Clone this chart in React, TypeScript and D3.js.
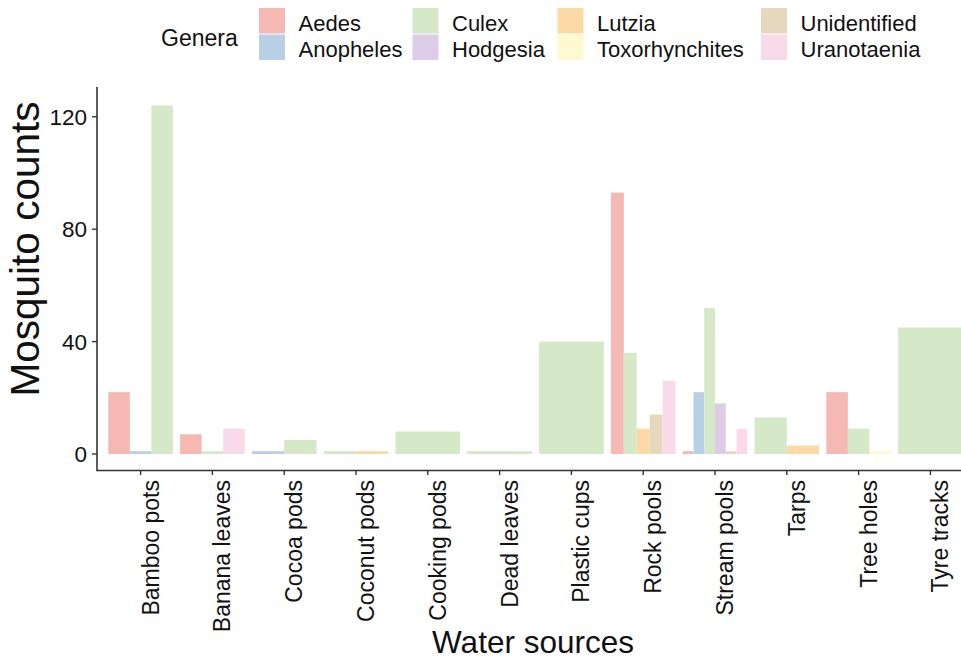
import React from "react";
import * as d3 from "d3";

const categories = [
  "Bamboo pots", "Banana leaves", "Cocoa pods", "Coconut pods", "Cooking pods", "Dead leaves",
  "Plastic cups", "Rock pools", "Stream pools", "Tarps", "Tree holes", "Tyre tracks",
];
const genera = ["Aedes", "Anopheles", "Culex", "Hodgesia", "Lutzia", "Toxorhynchites", "Unidentified", "Uranotaenia"];
const colors = ["#F5B8B3", "#B8CFE6", "#D5E8C8", "#DCCCE5", "#FDD9A6", "#FFF9CF", "#E5D8BE", "#F9DAEA"];

const aedes = [22, 7, null, null, null, null, null, 93, 1, null, 22, null];
const anopheles = [1, null, 1, null, null, null, null, null, 22, null, null, null];
const culex = [124, 1, 5, 1, 8, 1, 40, 36, 52, 13, 9, 45];
const hodgesia = [null, null, null, null, null, null, null, null, 18, null, null, null];
const lutzia = [null, null, null, 1, null, null, null, 9, null, 3, null, null];
const toxorhynchites = [null, null, null, null, null, null, null, null, null, null, 1, null];
const unidentified = [null, null, null, null, null, null, null, 14, 1, null, null, null];
const uranotaenia = [null, 9, null, null, null, null, null, 26, 9, null, null, null];

const yTicks = [0, 40, 80, 120];

const seriesValues: (number | null)[][] = [aedes, anopheles, culex, hodgesia, lutzia, toxorhynchites, unidentified, uranotaenia];

export default function App() {
  const W = 961, H = 659;
  const left = 97, bottom = 470.5;
  const x = d3.scalePoint<string>().domain(categories).range([97.5, 973.5]).padding(0.6);
  const step = x.step();
  const y = d3.scaleLinear().domain([-6.2, 130.2]).range([471.4, 88.1]);
  const font = "'Liberation Sans', Arial, sans-serif";

  const bars: React.ReactNode[] = [];
  categories.forEach((c, ci) => {
    const present = genera.map((g, gi) => ({ g, gi, v: seriesValues[gi][ci] })).filter(d => d.v !== null);
    const total = step * 0.9;
    const bw = total / present.length;
    const x0 = (x(c) as number) - total / 2;
    present.forEach((d, k) => {
      const v = d.v as number;
      bars.push(
        <rect key={c + d.g} x={x0 + k * bw} width={bw} y={y(v)} height={y(0) - y(v)} fill={colors[d.gi]} />
      );
    });
  });

  const legendCols = [259, 412.5, 557.5, 761];
  const legendRows = [8, 34.5];

  return (
    <svg width={W} height={H} style={{ position: "absolute", left: 0, top: 0, background: "#fff" }} fontFamily={font}>
      <rect x={0} y={0} width={W} height={H} fill="#fff" />
      {bars}
      {/* axes */}
      <line x1={left} x2={W} y1={bottom} y2={bottom} stroke="#333" strokeWidth={1.6} />
      <line x1={left} x2={left} y1={87} y2={bottom + 0.8} stroke="#333" strokeWidth={1.6} />
      {yTicks.map(t => (
        <g key={t}>
          <line x1={left - 5} x2={left} y1={y(t)} y2={y(t)} stroke="#333" strokeWidth={1.4} />
          <text x={87} y={y(t)} dy="0.36em" textAnchor="end" fontSize={22.5} fill="#111">{t}</text>
        </g>
      ))}
      {categories.map(c => {
        const cx = x(c) as number;
        return (
          <g key={c}>
            <line x1={cx} x2={cx} y1={bottom} y2={bottom + 4.5} stroke="#333" strokeWidth={1.4} />
            <text transform={`translate(${cx + 18},480) rotate(-90)`} textAnchor="end" fontSize={23} fill="#111">{c}</text>
          </g>
        );
      })}
      <text x={533} y={653} textAnchor="middle" fontSize={31.5} fill="#111">Water sources</text>
      <text transform={`translate(39,249) rotate(-90)`} textAnchor="middle" fontSize={40.5} fill="#111">Mosquito counts</text>
      {/* legend */}
      <text x={161} y={46} fontSize={23} fill="#111">Genera</text>
      {genera.map((g, i) => {
        const col = Math.floor(i / 2), row = i % 2;
        const kx = legendCols[col], ky = legendRows[row];
        return (
          <g key={g}>
            <rect x={kx} y={ky} width={26} height={25.5} fill={colors[i]} />
            <text x={kx + 39.5} y={ky + 22.5} fontSize={22} fill="#111">{g}</text>
          </g>
        );
      })}
    </svg>
  );
}
